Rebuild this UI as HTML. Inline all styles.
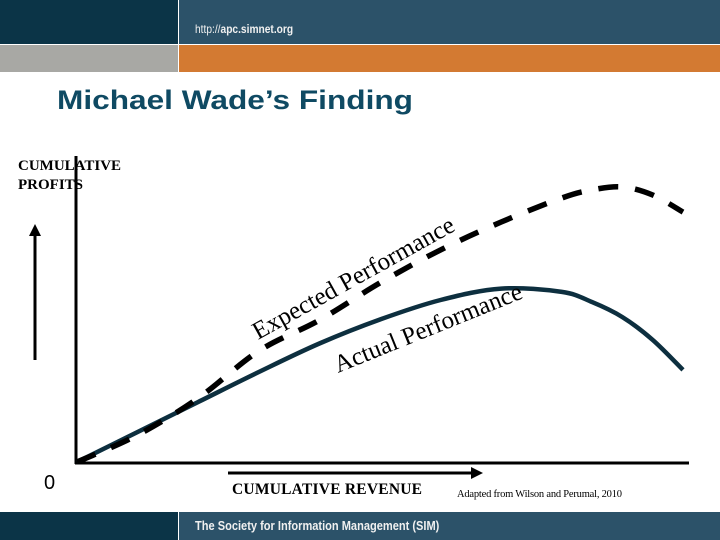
<!DOCTYPE html>
<html><head><meta charset="utf-8"><style>
body{margin:0;width:720px;height:540px;overflow:hidden;background:#fff;position:relative;font-family:"Liberation Sans",sans-serif}
div{position:absolute}
</style></head><body>
<div style="left:0;top:0;width:178px;height:44px;background:#0b3447"></div>
<div style="left:179px;top:0;width:541px;height:44px;background:#2c5269"></div>
<div style="left:0;top:45px;width:178px;height:27px;background:#a8a8a4"></div>
<div style="left:179px;top:45px;width:541px;height:27px;background:#d37a32"></div>
<div style="left:195px;top:22px;color:#f0f0f0;font-size:12px;transform:scaleX(0.85);transform-origin:left">http://<b>apc.simnet.org</b></div>
<div style="left:0;top:512px;width:178px;height:28px;background:#0b3447"></div>
<div style="left:179px;top:512px;width:541px;height:28px;background:#2c5269"></div>
<div style="left:195px;top:518px;color:#f0f0f0;font-size:13px;font-weight:bold;transform:scaleX(0.85);transform-origin:left;white-space:nowrap">The Society for Information Management (SIM)</div>
<svg width="720" height="540" style="position:absolute;left:0;top:0" font-family="'Liberation Serif',serif">
<text x="57" y="109" font-family="'Liberation Sans',sans-serif" font-size="27" font-weight="bold" fill="#0f4a63" textLength="356" lengthAdjust="spacingAndGlyphs">Michael Wade’s Finding</text>
<text x="18" y="170" font-size="15" font-weight="bold">CUMULATIVE</text>
<text x="18" y="189" font-size="15" font-weight="bold">PROFITS</text>
<line x1="76" y1="156" x2="76" y2="464" stroke="#000" stroke-width="3"/>
<line x1="75" y1="463" x2="689" y2="463" stroke="#000" stroke-width="3"/>
<line x1="35" y1="360" x2="35" y2="232" stroke="#000" stroke-width="3"/>
<polygon points="35,224 29,236 41,236" fill="#000"/>
<line x1="228" y1="473" x2="474" y2="473" stroke="#000" stroke-width="3"/>
<polygon points="483,473 471,467 471,479" fill="#000"/>
<text x="44" y="489" font-size="20" font-family="'Liberation Sans',sans-serif">0</text>
<text x="232" y="494" font-size="15.5" font-weight="bold" textLength="190">CUMULATIVE REVENUE</text>
<text x="457" y="497" font-size="10.5" textLength="165">Adapted from Wilson and Perumal, 2010</text>
<g id="series"></g>
<text font-size="25" transform="translate(258,340) rotate(-29)">Expected Performance</text>
<text font-size="25" transform="translate(338,373) rotate(-22)">Actual Performance</text>
</svg>
<script>
const xs=[0,10,20,30,40,50,60,70,80,85,90,95,100];
const expected=[0,9,21.3,37,47.3,59.7,70.7,80,88,90.7,91.7,89,83.3];
const actual=[0,10,20,30,39.5,47.5,54,57.8,56.7,53.3,48.3,40.7,30.7];
function sx(v){return 77+v*6.06;}
function sy(v){return 462-v*3;}
function pathFor(ys){
  const p=xs.map((x,i)=>[sx(x),sy(ys[i])]);
  let d='M'+p[0][0]+','+p[0][1];
  for(let i=0;i<p.length-1;i++){
    const p0=p[Math.max(i-1,0)],p1=p[i],p2=p[i+1],p3=p[Math.min(i+2,p.length-1)];
    const c1=[p1[0]+(p2[0]-p0[0])/6,p1[1]+(p2[1]-p0[1])/6];
    const c2=[p2[0]-(p3[0]-p1[0])/6,p2[1]-(p3[1]-p1[1])/6];
    d+=' C'+c1+' '+c2+' '+p2;
  }
  return d;
}
const g=document.getElementById('series');
const ns='http://www.w3.org/2000/svg';
const a=document.createElementNS(ns,'path');


a.setAttribute('d',pathFor(actual));
a.setAttribute('fill','none');a.setAttribute('stroke','#0d2f3f');a.setAttribute('stroke-width','4.5');
g.appendChild(a);
const e=document.createElementNS(ns,'path');


e.setAttribute('d',pathFor(expected));
e.setAttribute('fill','none');e.setAttribute('stroke','#000');e.setAttribute('stroke-width','5.5');
e.setAttribute('stroke-dasharray','20 17');
g.appendChild(e);
</script>
</body></html>
